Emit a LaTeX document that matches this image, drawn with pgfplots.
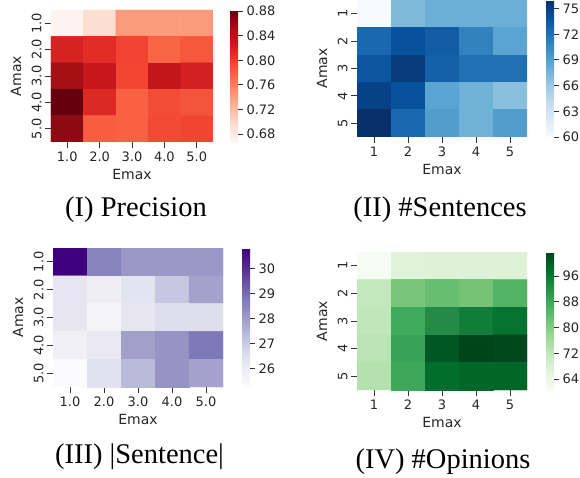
\documentclass[border=0pt]{standalone}
\usepackage{pgfplots}
\pgfplotsset{compat=1.18}
\usepackage{fontspec}
\setmainfont{DejaVu Sans}
\newfontfamily\tnr{Liberation Serif}
\newcommand\tl{\fontsize{13}{15}\selectfont}
\pgfplotsset{
 colormap={reds}{rgb255=(255,245,240) rgb255=(254,224,210) rgb255=(252,187,161) rgb255=(252,146,114) rgb255=(251,106,74) rgb255=(239,59,44) rgb255=(203,24,29) rgb255=(165,15,21) rgb255=(103,0,13)},
 colormap={blues}{rgb255=(247,251,255) rgb255=(222,235,247) rgb255=(198,219,239) rgb255=(158,202,225) rgb255=(107,174,214) rgb255=(66,146,198) rgb255=(33,113,181) rgb255=(8,81,156) rgb255=(8,48,107)},
 colormap={purples}{rgb255=(252,251,253) rgb255=(239,237,245) rgb255=(218,218,235) rgb255=(188,189,220) rgb255=(158,154,200) rgb255=(128,125,186) rgb255=(106,81,163) rgb255=(84,39,143) rgb255=(63,0,125)},
 colormap={greens}{rgb255=(247,252,245) rgb255=(229,245,224) rgb255=(199,233,192) rgb255=(161,217,155) rgb255=(116,196,118) rgb255=(65,171,93) rgb255=(35,139,69) rgb255=(0,109,44) rgb255=(0,68,27)},
 hm/.style={
  scale only axis, enlargelimits=false,
  xmin=0.5,xmax=5.5,ymin=0.5,ymax=5.5,
  xtick={1,2,3,4,5}, ytick={1,2,3,4,5},
  axis line style={draw=none},
  tick align=outside, major tick length=6pt,
  every tick/.style={line width=0.9pt, draw=black!80},
  xtick pos=bottom, ytick pos=left,
  ticklabel style={font=\tl, text=black!85},
  yticklabel style={rotate=90, anchor=south},
  xlabel=Emax, ylabel=Amax,
  label style={font=\fontsize{14}{16}\selectfont, text=black!85},
  xlabel style={at={(axis description cs:0.5,0)}, anchor=center, yshift=-32pt},
  ylabel style={at={(axis description cs:0,0.5)}, anchor=center, yshift=35pt},
  colorbar,
 },
 cb/.style={
  at={(parent axis.north east)}, anchor=north west, width=7.5pt,
  tick align=outside, major tick length=5pt,
  every tick/.style={line width=0.9pt, draw=black!80},
  ytick pos=right, yticklabel pos=right,
  axis line style={draw=none},
  /pgf/number format/assume math mode=true,
  font=\tl,
  every tick label/.append style={font=\tl, text=black!85},
  yticklabel style={font=\tl, text=black!85},
 },
}
\begin{document}
\begin{tikzpicture}
\useasboundingbox (0,0) rectangle (580pt,477pt);
% (I) Precision
\begin{axis}[hm, at={(51pt,335pt)}, anchor=south west, width=162pt, height=132pt,
  colormap name=reds, point meta min=0.667, point meta max=0.882,
  xticklabels={1.0,2.0,3.0,4.0,5.0}, yticklabels={5.0,4.0,3.0,2.0,1.0},
  colorbar style={cb, xshift=9pt, ytick={0.68,0.72,0.76,0.80,0.84,0.88}, yticklabels={0.68,0.72,0.76,0.80,0.84,0.88}}]
\addplot[matrix plot*, mesh/cols=5, point meta=explicit] table[x=e, y expr=6-\thisrow{a}, meta=c] {
e a c
1 1 0.668
2 1 0.695
3 1 0.742
4 1 0.742
5 1 0.742
1 2 0.820
2 2 0.812
3 2 0.797
4 2 0.778
5 2 0.785
1 3 0.855
2 3 0.832
3 3 0.795
4 3 0.835
5 3 0.822
1 4 0.882
2 4 0.815
3 4 0.780
4 4 0.792
5 4 0.787
1 5 0.865
2 5 0.782
3 5 0.780
4 5 0.793
5 5 0.796
};
\end{axis}
% (II) #Sentences
\begin{axis}[hm, at={(357pt,340pt)}, anchor=south west, width=170pt, height=137pt,
  colormap name=blues, point meta min=60, point meta max=76,
  xticklabels={1,2,3,4,5}, yticklabels={5,4,3,2,1},
  colorbar style={cb, xshift=11pt, ytick={60,63,66,69,72,75}, yticklabels={60,63,66,69,72,75}}]
\addplot[matrix plot*, mesh/cols=5, point meta=explicit] table[x=e, y expr=6-\thisrow{a}, meta=c] {
e a c
1 1 60.0
2 1 67.2
3 1 68.0
4 1 68.0
5 1 68.0
1 2 72.6
2 2 74.0
3 2 73.3
4 2 71.0
5 2 68.8
1 3 73.7
2 3 75.3
3 3 73.0
4 3 72.1
5 3 72.1
1 4 74.9
2 4 74.0
3 4 68.8
4 4 67.8
5 4 66.8
1 5 76.0
2 5 72.6
3 5 69.2
4 5 67.8
5 5 69.2
};
\end{axis}
% (III) |Sentence|
\begin{axis}[hm, at={(53pt,90pt)}, anchor=south west, width=170pt, height=139pt,
  colormap name=purples, point meta min=25.25, point meta max=30.83,
  xticklabels={1.0,2.0,3.0,4.0,5.0}, yticklabels={5.0,4.0,3.0,2.0,1.0},
  colorbar style={cb, xshift=11pt, ytick={26,27,28,29,30}, yticklabels={26,27,28,29,30}}]
\addplot[matrix plot*, mesh/cols=5, point meta=explicit] table[x=e, y expr=6-\thisrow{a}, meta=c] {
e a c
1 1 30.83
2 1 28.55
3 1 28.10
4 1 28.10
5 1 28.10
1 2 26.25
2 2 25.92
3 2 26.30
4 2 27.10
5 2 27.90
1 3 26.20
2 3 25.62
3 3 26.20
4 3 26.50
5 3 26.50
1 4 25.80
2 4 26.10
3 4 27.95
4 4 28.20
5 4 28.80
1 5 25.30
2 5 26.40
3 5 27.40
4 5 28.20
5 5 27.90
};
\end{axis}
% (IV) #Opinions
\begin{axis}[hm, at={(357pt,87pt)}, anchor=south west, width=170pt, height=138pt,
  colormap name=greens, point meta min=60.6, point meta max=103.5,
  xticklabels={1,2,3,4,5}, yticklabels={5,4,3,2,1},
  colorbar style={cb, xshift=11pt, ytick={64,72,80,88,96}, yticklabels={64,72,80,88,96}}]
\addplot[matrix plot*, mesh/cols=5, point meta=explicit] table[x=e, y expr=6-\thisrow{a}, meta=c] {
e a c
1 1 61.0
2 1 67.0
3 1 67.3
4 1 67.3
5 1 67.3
1 2 71.8
2 2 81.6
3 2 83.3
4 2 82.0
5 2 85.5
1 3 72.3
2 3 87.4
3 3 92.8
4 3 95.4
5 3 97.0
1 4 73.0
2 4 89.0
3 4 101.0
4 4 103.5
5 4 103.0
1 5 74.0
2 5 88.0
3 5 98.0
4 5 99.0
5 5 99.0
};
\end{axis}
\node[font=\tnr\fontsize{28.5}{31}\selectfont, anchor=base] at (136pt,260pt) {(I) Precision};
\node[font=\tnr\fontsize{28.5}{31}\selectfont, anchor=base] at (440pt,260pt) {(II) \#Sentences};
\node[font=\tnr\fontsize{28.5}{31}\selectfont, anchor=base] at (139.5pt,14pt) {(III) |Sentence|};
\node[font=\tnr\fontsize{28.5}{31}\selectfont, anchor=base] at (443pt,9pt) {(IV) \#Opinions};
\end{tikzpicture}
\end{document}
